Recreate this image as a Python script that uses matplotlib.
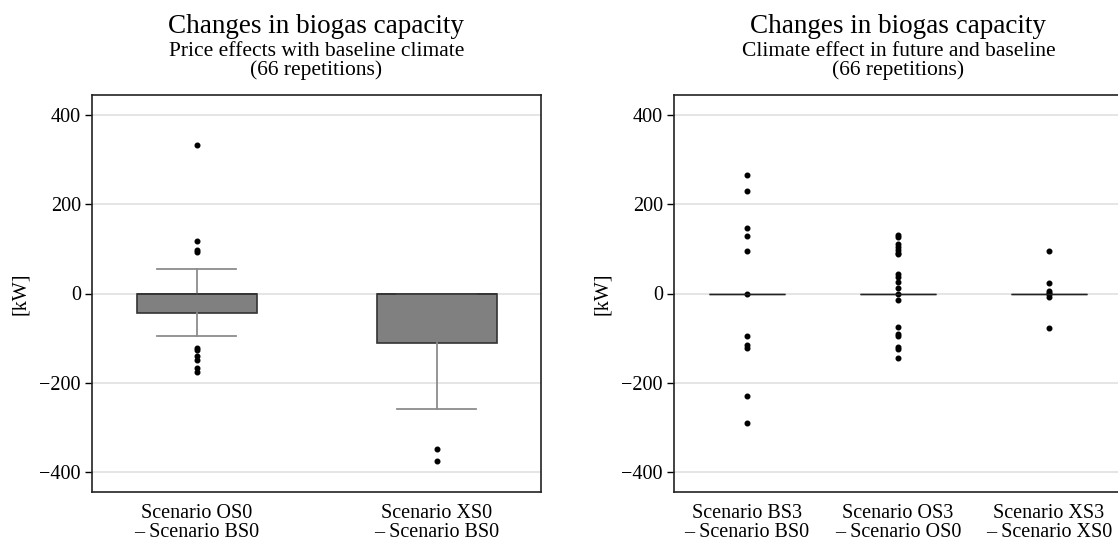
import matplotlib
matplotlib.use("Agg")
import matplotlib.pyplot as plt

plt.rcParams['font.family'] = ['Liberation Serif', 'DejaVu Serif']

# left panel: price effects, baseline climate (box summary in kW)
left_labels = ["Scenario OS0\n\u2013 Scenario BS0", "Scenario XS0\n\u2013 Scenario BS0"]
left_q1 = [-43, -110]
left_med = [0, 0]
left_q3 = [0, 0]
left_whislo = [-96, -260]
left_whishi = [55, 0]
left_fliers = [
    [332, 117, 97, 92, -122, -127, -140, -148, -168, -175],
    [-349, -375],
]

# right panel: climate effect, future vs baseline
right_labels = ["Scenario BS3\n\u2013 Scenario BS0",
                "Scenario OS3\n\u2013 Scenario OS0",
                "Scenario XS3\n\u2013 Scenario XS0"]
right_q1 = [0, 0, 0]
right_med = [0, 0, 0]
right_q3 = [0, 0, 0]
right_fliers = [
    [265, 230, 147, 128, 95, -2, -96, -116, -122, -230, -290],
    [132, 126, 111, 105, 97, 91, 88, 43, 37, 25, 13, -1, -14, -76, -91, -96, -120, -124, -144],
    [95, 24, 6, 1, -2, -8, -78],
]

main_title = "Changes in biogas capacity"
subtitles = ["Price effects with baseline climate",
             "Climate effect in future and baseline"]
reps = "(66 repetitions)"

W, H = 1118, 540
fig = plt.figure(figsize=(W / 100, H / 100), dpi=100)
ax1 = fig.add_axes([92 / W, 48 / H, 449 / W, 397 / H])
ax2 = fig.add_axes([674 / W, 48 / H, 449 / W, 397 / H])

box_face = "#808080"
whisk = "#8c8c8c"


def stats(q1, med, q3, lo, hi, fl):
    return [dict(q1=a, med=b, q3=c, whislo=d, whishi=e, fliers=f)
            for a, b, c, d, e, f in zip(q1, med, q3, lo, hi, fl)]


ax1.bxp(stats(left_q1, left_med, left_q3, left_whislo, left_whishi, left_fliers),
        positions=[1, 2], widths=0.5, patch_artist=True,
        boxprops=dict(facecolor=box_face, edgecolor="#333333", linewidth=1.2),
        medianprops=dict(color="#333333", linewidth=1.2),
        whiskerprops=dict(color=whisk, linewidth=1.3),
        capprops=dict(color=whisk, linewidth=1.3),
        capwidths=0.33,
        flierprops=dict(marker="o", markersize=3.3, markerfacecolor="black",
                        markeredgecolor="black"))

ax2.bxp(stats(right_q1, right_med, right_q3, right_q1, right_q3, right_fliers),
        positions=[1, 2, 3], widths=0.5, patch_artist=True,
        boxprops=dict(facecolor=box_face, edgecolor="#333333", linewidth=1.0),
        medianprops=dict(color="#222222", linewidth=1.0),
        whiskerprops=dict(color=whisk, linewidth=1.0),
        capprops=dict(visible=False),
        flierprops=dict(marker="o", markersize=3.3, markerfacecolor="black",
                        markeredgecolor="black"))

for ax, labels, xl, sub in [(ax1, left_labels, (0.564, 2.434), subtitles[0]),
                            (ax2, right_labels, (0.516, 3.49), subtitles[1])]:
    ax.set_xlim(*xl)
    ax.set_ylim(-445, 445)
    ax.set_yticks([-400, -200, 0, 200, 400])
    ax.set_yticklabels(["\u2212400", "\u2212200", "0", "200", "400"])
    ax.set_xticklabels(labels, linespacing=0.95)
    ax.tick_params(axis="x", length=0, labelsize=14.5, pad=9)
    ax.tick_params(axis="y", length=5, width=1, labelsize=14.5, pad=3)
    ax.yaxis.grid(True, color="#e0e0e0", linewidth=1.2)
    ax.set_axisbelow(True)
    for s in ax.spines.values():
        s.set_linewidth(1.2)
        s.set_color("#222222")
    ax.set_ylabel("[kW]", fontsize=14.5, labelpad=7)
    pos = ax.get_position()
    cx = (pos.x0 + pos.x1) / 2
    fig.text(cx, 1 - 33 / H, main_title, ha="center", va="baseline", fontsize=19.5)
    fig.text(cx, 1 - 56 / H, sub, ha="center", va="baseline", fontsize=15.5)
    fig.text(cx, 1 - 75 / H, reps, ha="center", va="baseline", fontsize=15.5)

fig.savefig("out.png", dpi=100)
